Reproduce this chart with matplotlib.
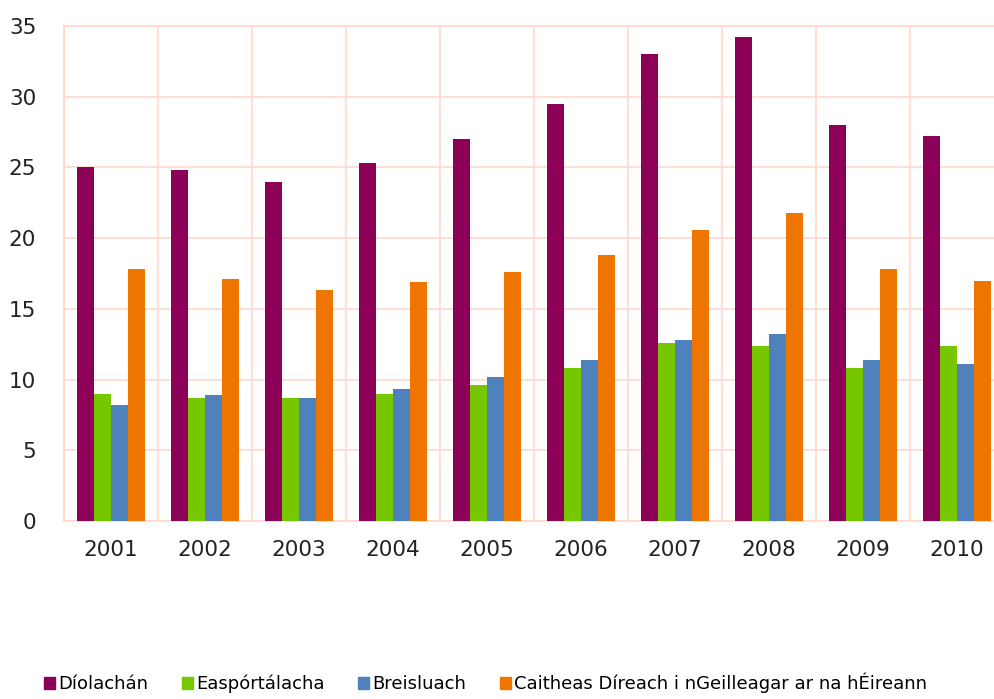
import numpy as np
import matplotlib.pyplot as plt
from matplotlib.patches import Patch

# Data
years = ['2001', '2002', '2003', '2004', '2005', '2006', '2007', '2008', '2009', '2010']
diolachan = [25.0, 24.8, 24.0, 25.3, 27.0, 29.5, 33.0, 34.2, 28.0, 27.2]
easportalacha = [9.0, 8.7, 8.7, 9.0, 9.6, 10.8, 12.6, 12.4, 10.8, 12.4]
breisluach = [8.2, 8.9, 8.7, 9.3, 10.2, 11.4, 12.8, 13.2, 11.4, 11.1]
caitheas = [17.8, 17.1, 16.3, 16.9, 17.6, 18.8, 20.6, 21.8, 17.8, 17.0]

series = [
    ('Díolachán', diolachan, '#8c0057'),
    ('Easpórtálacha', easportalacha, '#77c700'),
    ('Breisluach', breisluach, '#4f81bd'),
    ('Caitheas Díreach i nGeilleagar ar na hÉireann', caitheas, '#ee7600'),
]

grid_col = '#ffd9cc'

fig = plt.figure(figsize=(9.94, 6.99), dpi=100)
ax = fig.add_axes([64 / 994, 178 / 699, 940 / 994, 495 / 699])

x = np.arange(len(years))
w = 0.18
for i, (name, vals, col) in enumerate(series):
    ax.bar(x + (i - 1.5) * w, vals, width=w, color=col, label=name, zorder=3)

ax.set_xlim(-0.5, len(years) - 0.5)
ax.set_ylim(0, 35)
ax.set_yticks(range(0, 36, 5))
ax.set_xticks(x)
ax.set_xticklabels(years)

# grid between categories and at every 5 units
ax.set_xticks(np.arange(-0.5, len(years)), minor=True)
ax.grid(True, which='minor', axis='x', color=grid_col, linewidth=1.2, zorder=0)
ax.grid(True, which='major', axis='y', color=grid_col, linewidth=1.2, zorder=0)
for s in ax.spines.values():
    s.set_color(grid_col)
    s.set_linewidth(1.2)

ax.tick_params(axis='both', which='both', length=0, labelsize=15.5, colors='#222222')
ax.tick_params(axis='y', pad=20)
ax.tick_params(axis='x', pad=14)

handles = [Patch(color=c, label=n) for n, v, c in series]
fig.legend(handles=handles, loc='lower left', bbox_to_anchor=(0.028, -0.015), ncol=4,
           frameon=False, fontsize=13, handlelength=0.6, handleheight=0.6,
           handletextpad=0.2, columnspacing=1.85)

fig.savefig('out.png', dpi=100)
